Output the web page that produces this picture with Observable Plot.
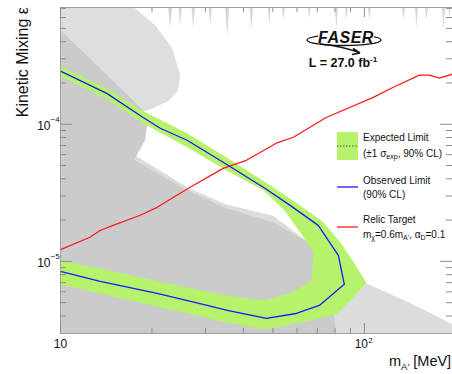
<!DOCTYPE html>
<html><head><meta charset="utf-8">
<script src="https://cdn.jsdelivr.net/npm/d3@7"></script>
<script src="https://cdn.jsdelivr.net/npm/@observablehq/plot@0.6"></script>
<style>body{margin:0;background:#fff;overflow:hidden}</style>
</head><body><div id="chart"></div>
<script>
// ---- data (mass in MeV, epsilon) ----
const xMajor = [10, 100];
const xMinor = [20, 30, 40, 50, 60, 70, 80, 90];
const yMajor = [1e-4, 1e-5];
const yMinor = [4e-6,5e-6,6e-6,7e-6,8e-6,9e-6,2e-5,3e-5,4e-5,5e-5,6e-5,7e-5,8e-5,9e-5,2e-4,3e-4,4e-4,5e-4,6e-4,7e-4];
const xTickExp = ["", "2"];
const yTickExp = ["\u22124", "\u22125"];

// existing constraints (grey)
const topSpikes = [[10,7.2e-4],[11.35,7.2e-4],[11.59,5.74e-4],[11.85,7.2e-4],[13.25,7.2e-4],[13.49,4.85e-4],[13.75,7.2e-4],
 [22.6,7.2e-4],[22.95,5.02e-4],[23.3,7.2e-4],[24.45,7.2e-4],[24.76,5.28e-4],[25.1,7.2e-4],[27.0,7.2e-4],[27.33,5.02e-4],[27.7,7.2e-4],
 [30.7,7.2e-4],[31.09,5.28e-4],[31.5,7.2e-4],[34.8,7.2e-4],[35.37,4.46e-4],[35.9,7.2e-4],[41.9,7.2e-4],[42.44,4.85e-4],[43.0,7.2e-4],
 [48.1,7.2e-4],[48.64,5.28e-4],[49.2,7.2e-4],[53.5,7.2e-4],[54.09,5.74e-4],[54.7,7.2e-4],[65.2,7.2e-4],[65.91,5.94e-4],[66.6,7.2e-4],
 [80.0,7.2e-4],[80.88,4.85e-4],[81.8,7.2e-4],[86.3,7.2e-4],[87.26,5.74e-4],[88.2,7.2e-4],[102.7,7.2e-4],[103.9,5.74e-4],[105.1,7.2e-4],
 [133.0,7.2e-4],[134.5,5.74e-4],[136.0,7.2e-4],[146.7,7.2e-4],[148.4,5.02e-4],[150.1,7.2e-4],[158.3,7.2e-4],[160.1,5.74e-4],[161.9,7.2e-4],
 [180.0,7.2e-4],[182.1,4.85e-4],[184.2,7.2e-4],[189.2,7.2e-4],[190.6,5.74e-4],[192,7.2e-4],[200,7.2e-4]];
const regionA = [[9,7.2e-4],[17.34,7.2e-4],[20.49,5.28e-4],[23.30,3.59e-4],[24.76,2.28e-4],[24.38,1.77e-4],[22.61,1.47e-4],[19.42,1.265e-4],[15.71,1.12e-4],[12.51,1.07e-4],[9,1.05e-4]];
const regionB = [[9,5.2e-4],[10,4.85e-4],[13.49,2.56e-4],[18.7,1.265e-4],[19.28,9.83e-5],[18.98,7.64e-5],[17.6,5.65e-5],[15.36,3.47e-5],[10,2.48e-5],[9,2.4e-5]];
const regionC = [[9,1.3e-4],[10,1.203e-4],[13.49,8.45e-5],[18.27,5.65e-5],[26.1,3.47e-5],[35.1,2.6e-5],[50.1,2.15e-5],[71.1,1.2e-5],[101.5,6.91e-6],[131.4,5.37e-6],[163.8,4.24e-6],[195,3.47e-6],[220,3.1e-6],[220,2e-6],[9,2e-6]];
const regionE = [[9,1.15e-4],[10,1.106e-4],[13.49,7.64e-5],[18.27,5.19e-5],[26.1,3.3e-5],[35.1,2.44e-5],[50.1,1.93e-5],[63.9,1.42e-5],[71.1,1.106e-5],[77.3,6.68e-6],[80.9,2.9e-6],[81.5,2e-6],[9,2e-6]];

// FASER expected limit band (+-1 sigma), closed outline
const expectedBand = [[10,2.65e-4],[14.2,1.83e-4],[18.7,1.244e-4],[26.1,8.6e-5],[35.1,5.74e-5],[50.1,3.47e-5],[61.5,2.56e-5],[73.3,1.93e-5],[83.4,1.376e-5],[91.3,1.02e-5],[101.5,7.03e-6],[89.9,5.19e-6],[80.9,4.1e-6],[57.5,3.47e-6],[47.6,3.19e-6],[35.1,3.59e-6],[20.8,4.69e-6],[13.5,5.84e-6],[10,6.79e-6],
 [10,1.017e-5],[13.5,8.89e-6],[20.8,7.15e-6],[35.1,5.65e-6],[46.5,5.19e-6],[57.0,5.84e-6],[66.9,7.15e-6],[67.9,1.163e-5],[61.5,1.63e-5],[54.5,2.36e-5],[46.5,3.3e-5],[35.1,4.62e-5],[26.1,6.8e-5],[18.7,1.017e-4],[14.2,1.52e-4],[10,2.24e-4]];
// observed limit
const observedMass = [10,14.2,18.7,21.3,26.1,34.3,46.5,57.0,70.5,82.1,85.9,71.1,59.7,47.6,35.4,30.4,20.8,13.5,10];
const observedEps = [2.44e-4,1.68e-4,1.12e-4,9.35e-5,7.64e-5,5.28e-5,3.47e-5,2.56e-5,1.83e-5,1.106e-5,6.8e-6,4.77e-6,4.17e-6,3.84e-6,4.39e-6,4.77e-6,5.84e-6,7.15e-6,8.45e-6];
// relic target
const relicMass = [10,12.5,13.5,14.9,18.3,20.8,26.7,34.3,40.9,51.3,58.4,74.9,107,124.5,151.8,163.7,176.6,195];
const relicEps = [1.22e-5,1.5e-5,1.68e-5,1.83e-5,2.17e-5,2.48e-5,3.47e-5,4.77e-5,5.46e-5,7.27e-5,8.04e-5,1.12e-4,1.57e-4,1.86e-4,2.28e-4,2.28e-4,2.17e-4,2.32e-4];

const observed = observedMass.map((m,i)=>({m, e: observedEps[i]}));
const relic = relicMass.map((m,i)=>({m, e: relicEps[i]}));

const W = 392, H = 326;
const grey = "#8c8c8c";
const font = "'Liberation Sans', Arial, Helvetica, sans-serif";
const poly = (data, fill) => Plot.line(data, {x: d=>d[0], y: d=>d[1], fill, stroke: "none", clip: true, curve: "linear-closed"});

const chart = Plot.plot({
  width: 452, height: 374,
  marginLeft: 60, marginRight: 0, marginTop: 7, marginBottom: 41,
  x: {type: "log", domain: [10, 195], axis: null},
  y: {type: "log", domain: [2.98e-6, 7.1e-4], axis: null},
  style: {fontFamily: font, background: "white", color: "#111"},
  marks: [
    poly(topSpikes, "#d6d6d6"),
    poly(regionC, "#dcdcdc"),
    poly(regionA, "#dedede"),
    poly(regionE, "#cbcbcb"),
    poly(regionB, "#cbcbcb"),
    poly(expectedBand, "#b6f26a"),
    Plot.line(relic, {x: "m", y: "e", stroke: "#ff1a1a", strokeWidth: 1.3, clip: true}),
    Plot.line(observed, {x: "m", y: "e", stroke: "#1a1aff", strokeWidth: 1.3, clip: true}),
    Plot.frame({stroke: "#a0a0a0", strokeWidth: 1}),
    // ticks (inward)
    Plot.tickY(yMajor, {y: d=>d, insetRight: W-12, stroke: grey}),
    Plot.tickY(yMinor, {y: d=>d, insetRight: W-6, stroke: grey}),
    Plot.tickY(yMajor, {y: d=>d, insetLeft: W-12, stroke: grey}),
    Plot.tickY(yMinor, {y: d=>d, insetLeft: W-6, stroke: grey}),
    Plot.tickX(xMajor, {x: d=>d, insetTop: H-10, stroke: grey}),
    Plot.tickX(xMinor, {x: d=>d, insetTop: H-5, stroke: grey}),
    Plot.tickX(xMajor, {x: d=>d, insetBottom: H-10, stroke: grey}),
    Plot.tickX(xMinor, {x: d=>d, insetBottom: H-5, stroke: grey}),
    // tick labels
    Plot.text(yMajor, {x: 10, y: d=>d, text: ()=>"10", textAnchor: "end", dx: -10, dy: 1.5, fontSize: 12, fill: "#111"}),
    Plot.text(yMajor, {x: 10, y: d=>d, text: (d,i)=>yTickExp[i], textAnchor: "start", dx: -10, dy: -4.5, fontSize: 8, fill: "#111"}),
    Plot.text([10], {x: d=>d, frameAnchor: "bottom", text: ()=>"10", dy: 14, fontSize: 12, fill: "#111"}),
    Plot.text([100], {x: d=>d, frameAnchor: "bottom", text: ()=>"10", dx: -3, dy: 14, fontSize: 12, fill: "#111"}),
    Plot.text([100], {x: d=>d, frameAnchor: "bottom", text: ()=>xTickExp[1], textAnchor: "start", dx: 4, dy: 9, fontSize: 8, fill: "#111"})
  ]
});
document.getElementById("chart").appendChild(chart);

// ---- annotations (layout) ----
const svg = d3.select(chart);
const g = svg.append("g").attr("font-family", font).attr("fill", "#111").attr("text-anchor", "start");
// axis titles
g.append("text").attr("transform", "translate(28,7) rotate(-90)").attr("text-anchor", "end").attr("font-size", 16).text("Kinetic Mixing \u03b5");
const xl = g.append("text").attr("x", 389).attr("y", 366).attr("font-size", 14.5);
xl.append("tspan").text("m");
xl.append("tspan").attr("font-size", 9.5).attr("dy", 4).text("A'");
xl.append("tspan").attr("dy", -4).text(" [MeV]");

// FASER logo
const logo = g.append("g");
logo.append("ellipse").attr("cx", 344).attr("cy", 40).attr("rx", 37).attr("ry", 5.5).attr("fill", "none").attr("stroke", "#111").attr("stroke-width", 1.4);
logo.append("path").attr("d", "M320,44 Q342,46 360,53 L353,48.5 M360,53 L352,54.5").attr("fill", "none").attr("stroke", "#111").attr("stroke-width", 1.5);
logo.append("rect").attr("x", 318).attr("y", 29).attr("width", 56).attr("height", 14).attr("fill", "white");
logo.append("text").attr("x", 346).attr("y", 43).attr("text-anchor", "middle").attr("font-size", 16).attr("font-weight", "bold").attr("font-style", "italic").attr("letter-spacing", 0.5).text("FASER");
const lum = g.append("text").attr("x", 343).attr("y", 67).attr("text-anchor", "middle").attr("font-size", 12.5).attr("font-weight", "bold");
lum.append("tspan").text("L = 27.0 fb");
lum.append("tspan").attr("font-size", 8).attr("dy", -5).text("-1");

// legend
const lg = g.append("g").attr("font-size", 10);
lg.append("rect").attr("x", 337).attr("y", 132).attr("width", 21).attr("height", 28).attr("fill", "#b6f26a");
lg.append("line").attr("x1", 337).attr("x2", 358).attr("y1", 146).attr("y2", 146).attr("stroke", "#333").attr("stroke-width", 0.8).attr("stroke-dasharray", "1.5,1.5");
lg.append("text").attr("x", 363).attr("y", 141).text("Expected Limit");
const t2 = lg.append("text").attr("x", 363).attr("y", 157);
t2.append("tspan").text("(\u00b11 \u03c3");
t2.append("tspan").attr("font-size", 7).attr("dy", 2).text("exp");
t2.append("tspan").attr("dy", -2).text(", 90% CL)");
lg.append("line").attr("x1", 337).attr("x2", 358).attr("y1", 187).attr("y2", 187).attr("stroke", "#1a1aff").attr("stroke-width", 1.3);
lg.append("text").attr("x", 363).attr("y", 184).text("Observed Limit");
lg.append("text").attr("x", 363).attr("y", 198).text("(90% CL)");
lg.append("line").attr("x1", 337).attr("x2", 358).attr("y1", 227).attr("y2", 227).attr("stroke", "#ff1a1a").attr("stroke-width", 1.3);
lg.append("text").attr("x", 363).attr("y", 223).text("Relic Target");
const t3 = lg.append("text").attr("x", 363).attr("y", 238);
t3.append("tspan").text("m");
t3.append("tspan").attr("font-size", 7).attr("dy", 2).text("\u03c7");
t3.append("tspan").attr("dy", -2).text("=0.6m");
t3.append("tspan").attr("font-size", 7).attr("dy", 2).text("A'");
t3.append("tspan").attr("dy", -2).text(", \u03b1");
t3.append("tspan").attr("font-size", 7).attr("dy", 2).text("D");
t3.append("tspan").attr("dy", -2).text("=0.1");
</script>
</body></html>
